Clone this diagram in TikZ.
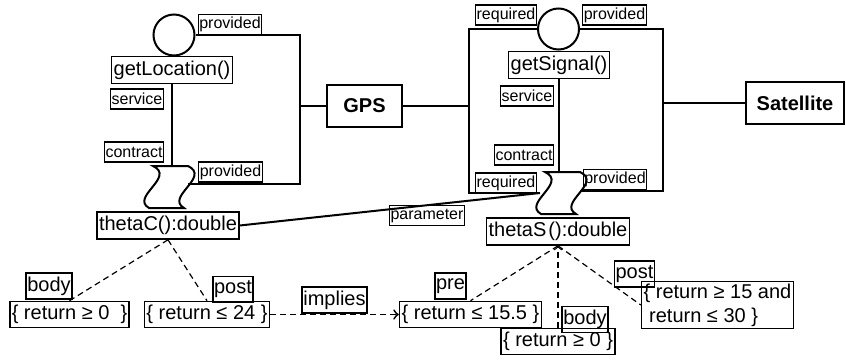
\documentclass[tikz,border=0pt]{standalone}
\usepackage{fontspec}
\setmainfont{Liberation Sans}
\usepackage{tikz}
\usetikzlibrary{calc}
\def\contractshape(#1,#2){\draw[line width=1pt, shift={(#1,#2)}] (0,0) -- (35,0) .. controls (58,11) and (12,31) .. (31,42) -- (-4,42) .. controls (-23,31) and (23,11) .. cycle;}

\begin{document}
\begin{tikzpicture}[x=0.5pt, y=-0.5pt,
		lbl/.style={draw, line width=0.6pt, inner sep=0.6pt, minimum height=10pt, font=\fontsize{8}{9}\selectfont},
		op/.style={draw, line width=0.8pt, inner sep=1pt, minimum height=13.5pt, font=\fontsize{10}{12}\selectfont},
		cond/.style={op, minimum height=13pt},
		role/.style={op, minimum height=13pt, inner sep=0.6pt},
		comp/.style={draw, line width=0.8pt, minimum height=21pt, font=\bfseries\fontsize{10}{12}\selectfont},
		iface/.style={circle, draw, line width=1pt, minimum size=20.5pt, inner sep=0pt},
		wire/.style={line width=1pt},
		dep/.style={line width=0.6pt, dash pattern=on 3pt off 2pt}]
			%%%%% START %%%%%
			\useasboundingbox (0,0) rectangle (846,359);
			
			% left port: getLocation
			\node[lbl] (provLtop) at (230,24.5) {provided};
			\node[iface] (ifL) at (174,35) {};
			\node[op] (getLoc) at (172,70) {getLocation()};
			\node[lbl] (svcL) at (137,99) {service};
			\node[lbl] (ctrL) at (134,152) {contract};
			\node[lbl] (provLbot) at (230.5,172) {provided};
			\node[op] (thetaC) at (168,225.5) {thetaC():double};
			\contractshape(153,166)
			\coordinate (ctrShLtop) at (172,166);
			\coordinate (ctrShLright) at (188,184);
			
			\coordinate (jL1) at (300,35);
			\coordinate (jL2) at (300,184);
			\coordinate (jL3) at (300,106);
			\draw[wire] (ifL.east) -- (jL1) -- (jL2) -- (ctrShLright);
			\draw[wire] (getLoc.south) -- (ctrShLtop);
			
			\node[comp, minimum width=37.5pt] (gps) at (364.5,106) {GPS};
			\draw[wire] (jL3) -- (gps.west);
			
			% right port: getSignal
			\node[lbl] (reqRtop) at (506,15) {required};
			\node[iface] (ifR) at (558.5,29) {};
			\node[lbl] (provRtop) at (614.5,15) {provided};
			\node[op] (getSig) at (559,65) {getSignal()};
			\node[lbl] (svcR) at (527,96) {service};
			\node[lbl] (ctrR) at (524,155) {contract};
			\node[lbl] (reqRbot) at (506,183) {required};
			\node[lbl] (provRbot) at (615,179.5) {provided};
			\node[op] (thetaS) at (558,231.5) {thetaS\kern1pt():double};
			\contractshape(545,172)
			\coordinate (ctrShRtop) at (559,172);
			\coordinate (ctrShRleft) at (540,193);
			\coordinate (ctrShRright) at (580,191);
			
			\coordinate (fR1) at (469,29);
			\coordinate (fR2) at (469,193);
			\coordinate (fR3) at (663,29);
			\coordinate (fR4) at (663,191);
			\coordinate (fR5) at (469,106);
			\coordinate (fR6) at (663,103);
			\draw[wire] (ifR.west) -- (fR1) -- (fR2) -- (ctrShRleft);
			\draw[wire] (ifR.east) -- (fR3) -- (fR4) -- (ctrShRright);
			\draw[wire] (getSig.south) -- (ctrShRtop);
			\draw[wire] (gps.east) -- (fR5);
			
			\node[comp, minimum width=49pt] (sat) at (795,103) {Satellite};
			\draw[wire] (fR6) -- (sat.west);
			
			\node[lbl] (param) at (427,215.5) {parameter};
			\draw[wire] (thetaC.east) -- (ctrShRleft);
			
			% conditions
			\node[role] (bodyC) at (49,286) {body};
			\node[cond] (retC1) at (69.5,314.5) {\{ return ≥ 0\ \ \}};
			\node[role] (postC) at (233,289.5) {post};
			\node[cond] (retC2) at (207,314.5) {\{ return ≤ 24 \}};
			\node[role] (impl) at (334.5,300) {implies};
			\node[cond] (retS1) at (470.5,314.5) {\{ return ≤ 15.5 \}};
			\node[role] (preS) at (450.5,286) {pre};
			\node[cond] (retS2) at (558,341.5) {\{ return ≥ 0 \}};
			\node[role] (bodyS) at (585,319.5) {body};
			\node[role] (postS) at (634.5,274) {post};
			\node[cond, align=left] (retS3) at (717.5,305) {\{ return ≥ 15 and\\\ return ≤ 30 \}};
			
			\draw[dep] (thetaC.south) -- (retC1.north);
			\draw[dep] (thetaC.south) -- (retC2.north);
			\draw[dep, line width=0.9pt, ->] (retC2.east) -- (retS1.west);
			\draw[dep] (thetaS.south) -- (retS1.north);
			\draw[dep, ->] (retS2.north) -- (thetaS.south);
			\draw[dep] (thetaS.south) -- (retS3.west);
			
			%%%%% END %%%%%
		\end{tikzpicture}
\end{document}
